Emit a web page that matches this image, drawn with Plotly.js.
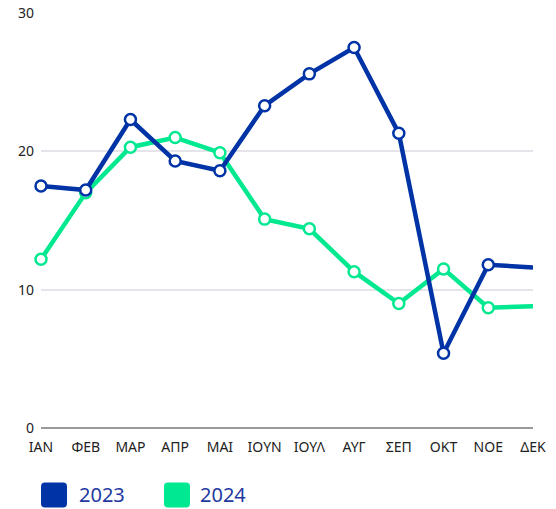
<!DOCTYPE html>
<html>
<head>
<meta charset="utf-8">
<script src="https://cdn.plot.ly/plotly-3.0.1.min.js"></script>
<style>html,body{margin:0;padding:0;background:#fff;}#chart{width:556px;height:509px;}</style>
</head>
<body>
<div id="chart"></div>
<script>
var months = ["ΙΑΝ","ΦΕΒ","ΜΑΡ","ΑΠΡ","ΜΑΙ","ΙΟΥΝ","ΙΟΥΛ","ΑΥΓ","ΣΕΠ","ΟΚΤ","ΝΟΕ","ΔΕΚ"];
var values2023 = [17.5, 17.2, 22.3, 19.3, 18.6, 23.3, 25.6, 27.5, 21.3, 5.4, 11.8, 11.6];
var values2024 = [12.2, 17.0, 20.3, 21.0, 19.9, 15.1, 14.4, 11.3, 9.0, 11.5, 8.7, 8.8];
var seriesNames = ["2023", "2024"];
var colors = ["#0033A6", "#00E890"];

var markerOpacity = months.map(function(m, i){ return i === months.length - 1 ? 0 : 1; });

function mkTrace(vals, name, color) {
  return {
    x: months, y: vals, name: name, type: "scatter", mode: "lines+markers",
    cliponaxis: false, showlegend: false,
    line: {color: color, width: 4.5},
    marker: {size: 11, color: "#ffffff", opacity: markerOpacity, line: {color: color, width: 2.5}}
  };
}
var traces = [mkTrace(values2024, seriesNames[1], colors[1]), mkTrace(values2023, seriesNames[0], colors[0])];

var W = 556, H = 509, mL = 41, mR = 23, mT = 13, mB = 80.5;
var pw = W - mL - mR, ph = H - mT - mB;
function px(x){ return (x - mL) / pw; }
function py(y){ return (H - mB - y) / ph; }
var sq = "M -9,-12.5 L 9,-12.5 Q 13,-12.5 13,-8.5 L 13,8.5 Q 13,12.5 9,12.5 L -9,12.5 Q -13,12.5 -13,8.5 L -13,-8.5 Q -13,-12.5 -9,-12.5 Z";
var legX = [54, 177], legTextX = [77, 198], legY = 495.5;
var shapes = [], annotations = [];
for (var i = 0; i < 2; i++) {
  shapes.push({type: "path", xref: "paper", yref: "paper", xsizemode: "pixel", ysizemode: "pixel",
    xanchor: px(legX[i]), yanchor: py(legY), path: sq, fillcolor: colors[i], line: {width: 0}});
  annotations.push({xref: "paper", yref: "paper", x: px(legTextX[i]), y: py(legY), xanchor: "left", yanchor: "middle",
    text: seriesNames[i], showarrow: false, font: {family: "Noto Sans, sans-serif", size: 20, color: "#1f3aa0"}});
}

var layout = {
  width: W, height: H,
  margin: {l: mL, r: mR, t: mT, b: mB, pad: 0},
  paper_bgcolor: "#ffffff", plot_bgcolor: "#ffffff",
  showlegend: false,
  font: {family: "Noto Sans, sans-serif", size: 14, color: "#222222"},
  xaxis: {type: "category", range: [0, 11], showgrid: false, zeroline: false, showline: false,
    ticks: "", ticklabelstandoff: 9, tickfont: {size: 14, color: "#222222"}, fixedrange: true},
  yaxis: {range: [0, 30], tickvals: [0, 10, 20, 30], showgrid: true, gridcolor: "#e4e4ea", gridwidth: 2,
    zeroline: true, zerolinecolor: "#999999", zerolinewidth: 2.5, showline: false, ticks: "",
    ticklabelstandoff: 6, tickfont: {size: 14, color: "#222222"}, fixedrange: true},
  shapes: shapes, annotations: annotations
};
Plotly.newPlot("chart", traces, layout, {displayModeBar: false, staticPlot: true});
</script>
</body>
</html>
